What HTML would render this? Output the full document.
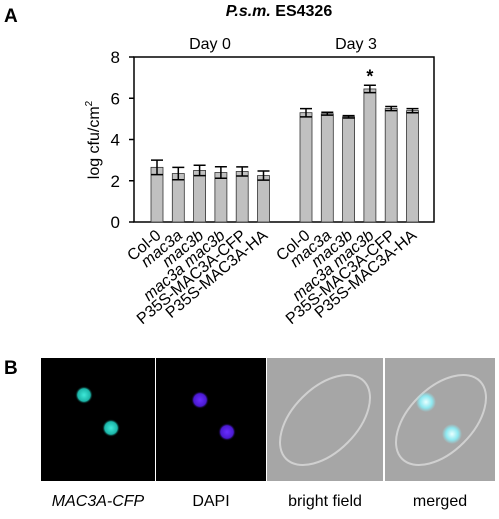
<!DOCTYPE html>
<html><head><meta charset="utf-8"><style>
body{margin:0;background:#fff;width:499px;height:514px;overflow:hidden;font-family:"Liberation Sans",sans-serif}
svg text{font-family:"Liberation Sans",sans-serif}
</style></head><body>
<svg width="499" height="514" xmlns="http://www.w3.org/2000/svg">
<defs>
<radialGradient id="cy"><stop offset="0" stop-color="#3fe8d8"/><stop offset="0.7" stop-color="#1bb5a8"/><stop offset="1" stop-color="#000" stop-opacity="0"/></radialGradient>
<radialGradient id="pu"><stop offset="0" stop-color="#6a2cff"/><stop offset="0.7" stop-color="#4a1ad0"/><stop offset="1" stop-color="#000" stop-opacity="0"/></radialGradient>
<radialGradient id="mg"><stop offset="0" stop-color="#e8ffff"/><stop offset="0.6" stop-color="#8ee8f0"/><stop offset="1" stop-color="#8ee8f0" stop-opacity="0"/></radialGradient>
</defs>
<text x="4" y="22" font-size="19" font-weight="bold">A</text>
<text x="279" y="16" font-size="16" font-weight="bold" text-anchor="middle"><tspan font-style="italic">P.s.m.</tspan> ES4326</text>
<text x="210" y="49" font-size="16" text-anchor="middle">Day 0</text>
<text x="356" y="49" font-size="16" text-anchor="middle">Day 3</text>
<g id="chart"></g>
<text transform="translate(99,140) rotate(-90)" font-size="16" text-anchor="middle">log cfu/cm<tspan dy="-7" font-size="10">2</tspan></text>
<text x="4" y="374" font-size="19" font-weight="bold">B</text>
<g>
<rect x="41" y="358" width="114" height="123" fill="#000"/>
<circle cx="84" cy="395" r="9" fill="url(#cy)"/><circle cx="111" cy="428" r="9" fill="url(#cy)"/></g>
<g>
<rect x="156" y="358" width="110" height="123" fill="#000"/>
<circle cx="200" cy="400" r="9" fill="url(#pu)"/><circle cx="227" cy="432" r="9" fill="url(#pu)"/></g>
<g>
<rect x="267" y="358" width="116" height="123" fill="#a6a6a6"/>
<ellipse cx="325" cy="420" rx="55" ry="32" transform="rotate(-45 325 420)" fill="none" stroke="#d0d0d0" stroke-width="2"/></g>
<g>
<rect x="385" y="358" width="110" height="123" fill="#a6a6a6"/>
<ellipse cx="441" cy="420" rx="55" ry="32" transform="rotate(-45 441 420)" fill="none" stroke="#d0d0d0" stroke-width="2"/>
<circle cx="426" cy="402" r="10" fill="url(#mg)"/><circle cx="452" cy="434" r="10" fill="url(#mg)"/></g>
<text x="98" y="506" font-size="16" font-style="italic" text-anchor="middle">MAC3A-CFP</text>
<text x="211" y="506" font-size="16" text-anchor="middle">DAPI</text>
<text x="325" y="506" font-size="16" text-anchor="middle">bright field</text>
<text x="440" y="506" font-size="16" text-anchor="middle">merged</text>
</svg>
<script>
const categories=["Col-0","mac3a","mac3b","mac3a mac3b","P35S-MAC3A-CFP","P35S-MAC3A-HA"];
const italicCats=[false,true,true,true,false,false];
const day0Values=[2.65,2.35,2.5,2.4,2.45,2.25];
const day0Errors=[0.35,0.3,0.25,0.28,0.22,0.22];
const day3Values=[5.3,5.25,5.1,6.45,5.5,5.4];
const day3Errors=[0.2,0.07,0.06,0.18,0.1,0.1];
const yTicks=[0,2,4,6,8];
const starIndex=3;
const NS="http://www.w3.org/2000/svg";
const g=document.getElementById('chart');
const X0=134,X1=434,Y0=222,Y1=57;
const y=v=>Y0-(v/8)*(Y0-Y1);
const x=(grp,i)=>(grp===0?157:306)+i*21.3;
function mk(t,a){const e=document.createElementNS(NS,t);for(const k in a)e.setAttribute(k,a[k]);g.appendChild(e);return e;}
let f=mk('path',{d:`M${X0} ${Y1}H${X1}V${Y0}H${X0}Z`,fill:'none',stroke:'#000','stroke-width':1.5});


yTicks.forEach(t=>{
 const tk=mk('line',{x1:X0-5,x2:X0,y1:y(t),y2:y(t),stroke:'#000','stroke-width':1.5});
 
 
 const tl=mk('text',{x:X0-14,y:y(t)+6,'font-size':17,'text-anchor':'end'});
 tl.textContent=t;
 
 
});
[[day0Values,day0Errors],[day3Values,day3Errors]].forEach(([vals,errs],grp)=>{
 vals.forEach((v,i)=>{
  const cx=x(grp,i);
  const b=mk('rect',{x:cx-6,y:y(v),width:12,height:Y0-y(v),fill:'#c0c0c0',stroke:'#333','stroke-width':0.8});
  
  
  const e=errs[i];
  const eb=mk('path',{d:`M${cx} ${y(v+e)}V${y(v-e)}M${cx-6} ${y(v+e)}H${cx+6}M${cx-6} ${y(v-e)}H${cx+6}`,stroke:'#000','stroke-width':1.5,fill:'none'});
  
  
  const lb=mk('text',{transform:`translate(${cx+5},${Y0+15}) rotate(-40)`,'font-size':16,'text-anchor':'end'});
  lb.textContent=categories[i];
  if(italicCats[i])lb.setAttribute('font-style','italic');
  
  
 });
});
const st=mk('text',{x:x(1,starIndex),y:y(day3Values[starIndex]+day3Errors[starIndex])-3,'font-size':18,'text-anchor':'middle','font-weight':'bold'});
st.textContent='*';


</script>
</body></html>
